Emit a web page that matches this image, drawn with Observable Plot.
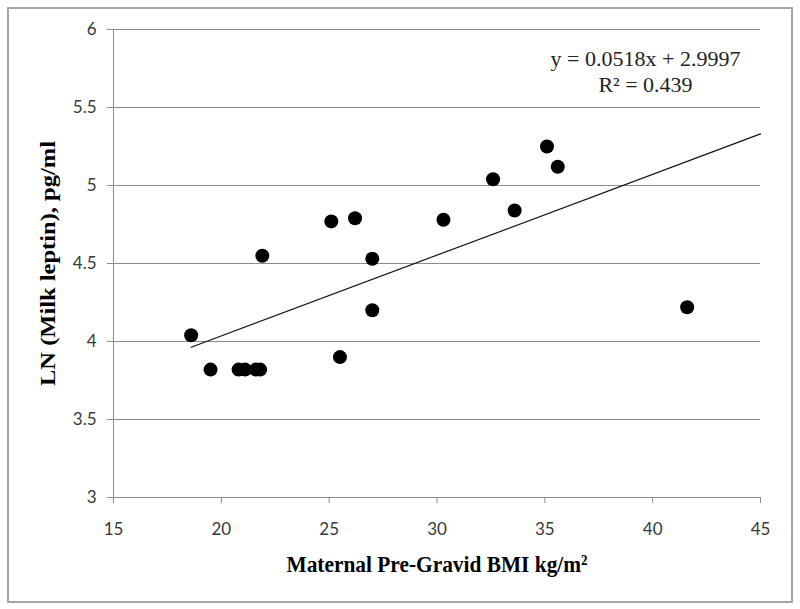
<!DOCTYPE html>
<html>
<head>
<meta charset="utf-8">
<script src="https://cdn.jsdelivr.net/npm/d3@7"></script>
<script src="https://cdn.jsdelivr.net/npm/@observablehq/plot@0.6"></script>
<style>
  html, body { margin: 0; padding: 0; background: #fff; }
  #wrap { position: relative; width: 800px; height: 609px; }
  #border { position: absolute; left: 7px; top: 7px; width: 782px; height: 592px; border: 2px solid #a6a6a6; pointer-events: none; }
</style>
</head>
<body>
<div id="wrap"><div id="border"></div></div>
<script>
// Data
const bmi    = [18.6, 19.5, 20.8, 21.1, 21.6, 21.8, 21.9, 25.1, 25.5, 26.2, 27.0, 27.0, 30.3, 32.6, 33.6, 35.1, 35.6, 41.6];
const lnLeptin = [4.04, 3.82, 3.82, 3.82, 3.82, 3.82, 4.55, 4.77, 3.90, 4.79, 4.53, 4.20, 4.78, 5.04, 4.84, 5.25, 5.12, 4.22];
const xTicks = [15, 20, 25, 30, 35, 40, 45];
const yTicks = [3, 3.5, 4, 4.5, 5, 5.5, 6];
const trendSlope = 0.0518;
const trendIntercept = 2.9997;
const trendX = [18.6, 45];
const eqLabel = "y = 0.0518x + 2.9997";
const r2Label = "R\u00B2 = 0.439";
const xTitle = "Maternal Pre-Gravid BMI kg/m\u00B2";
const yTitle = "LN (Milk leptin), pg/ml";

const points = bmi.map((x, i) => ({x, y: lnLeptin[i]}));
const trend = trendX.map(x => ({x, y: trendSlope * x + trendIntercept}));

const tickFont = "Lato, 'Open Sans', sans-serif";
const titleFont = "'Liberation Serif', 'Times New Roman', serif";

const chart = Plot.plot({
  width: 800,
  height: 609,
  marginLeft: 113,
  marginRight: 40,
  marginTop: 29,
  marginBottom: 112,
  style: {background: "transparent", fontFamily: tickFont, overflow: "visible"},
  x: {domain: [15, 45], ticks: xTicks, label: null},
  y: {domain: [3, 6], ticks: yTicks, label: null},
  marks: [
    Plot.gridY(yTicks.filter(d => d > 3), {stroke: "#8c8c8c", strokeOpacity: 1, strokeWidth: 1}),
    Plot.ruleX([15], {stroke: "#8c8c8c", strokeWidth: 1}),
    Plot.ruleY([3], {stroke: "#8c8c8c", strokeWidth: 1}),
    Plot.axisY(yTicks, {tickSize: 6, tickPadding: 11, tickFormat: d => String(d), stroke: "#8c8c8c", fill: "#383838", fontSize: 17, fontFamily: tickFont, label: null}),
    Plot.axisX(xTicks, {tickSize: 6, tickPadding: 19, tickFormat: d => String(d), stroke: "#8c8c8c", fill: "#383838", fontSize: 17, fontFamily: tickFont, label: null}),
    Plot.line(trend, {x: "x", y: "y", stroke: "#111", strokeWidth: 1.2}),
    Plot.dot(points, {x: "x", y: "y", r: 7, fill: "#000", stroke: "none"}),
    Plot.text([eqLabel], {frameAnchor: "top-right", dx: -115, dy: 29, textAnchor: "middle", lineAnchor: "middle", fontSize: 22, fontFamily: titleFont, fill: "#222"}),
    Plot.text([r2Label], {frameAnchor: "top-right", dx: -115, dy: 55, textAnchor: "middle", lineAnchor: "middle", fontSize: 22, fontFamily: titleFont, fill: "#222"}),
    Plot.text([xTitle], {frameAnchor: "bottom", dy: 67, textAnchor: "middle", lineAnchor: "middle", fontSize: 24, fontWeight: "bold", fontFamily: titleFont, fill: "#000", className: "xtitle"}),
    Plot.text([yTitle], {frameAnchor: "left", dx: -66, rotate: -90, textAnchor: "middle", lineAnchor: "middle", fontSize: 22, fontWeight: "bold", fontFamily: titleFont, fill: "#000", className: "ytitle"})
  ]
});
// condensed look of the titles, as in the reference
d3.select(chart).selectAll(".xtitle text").attr("textLength", 301).attr("lengthAdjust", "spacingAndGlyphs");
d3.select(chart).selectAll(".ytitle text").attr("textLength", 245).attr("lengthAdjust", "spacingAndGlyphs");
document.getElementById("wrap").prepend(chart);
</script>
</body>
</html>
